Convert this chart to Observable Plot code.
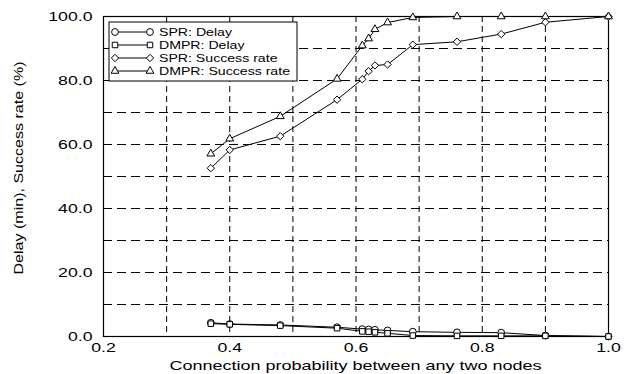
<!DOCTYPE html>
<html><head><meta charset="utf-8">
<script src="https://cdn.jsdelivr.net/npm/d3@7"></script>
<script src="https://cdn.jsdelivr.net/npm/@observablehq/plot@0.6"></script>
<style>body{margin:0;background:#fff;}svg{display:block;}</style>
</head><body><div id="chart"></div>
<script>
const xValues = [0.37, 0.40, 0.48, 0.57, 0.61, 0.62, 0.63, 0.65, 0.69, 0.76, 0.83, 0.90, 1.00];
const sprDelay = [4.3, 3.9, 3.6, 2.9, 2.3, 2.2, 2.1, 1.9, 1.5, 1.3, 1.2, 0.3, 0.0];
const dmprDelay = [4.0, 3.8, 3.4, 2.6, 1.6, 1.5, 1.3, 1.0, 0.3, 0.2, 0.2, 0.2, 0.0];
const sprSuccess = [52.6, 58.3, 62.6, 74.0, 80.4, 82.9, 84.7, 85.0, 91.2, 92.1, 94.5, 98.2, 100];
const dmprSuccess = [57.1, 61.8, 68.8, 80.5, 90.9, 93.1, 96.0, 98.1, 99.7, 100, 100, 100, 100];
const seriesNames = ["SPR: Delay", "DMPR: Delay", "SPR: Success rate", "DMPR: Success rate"];
const seriesSymbols = ["circle", "square", "diamond2", "triangle"];
const xTicks = [0.2, 0.4, 0.6, 0.8, 1.0];
const yTicks = [0, 20, 40, 60, 80, 100];
const xGrid = [0.3, 0.4, 0.5, 0.6, 0.7, 0.8, 0.9];
const yGrid = [10, 20, 30, 40, 50, 60, 70, 80, 90];
const xTitle = "Connection probability between any two nodes";
const yTitle = "Delay (min), Success rate (%)";

const seriesValues = [sprDelay, dmprDelay, sprSuccess, dmprSuccess];
const symbolSizes = [3.4, 3.1, 3.3, 2.9];
const data = [];
seriesValues.forEach((vals, i) => vals.forEach((v, j) => data.push({x: xValues[j], y: v, s: seriesNames[i]})));

const FONT = '"Liberation Sans", Arial, Helvetica, sans-serif';
const W = 626, H = 374;
const plot = Plot.plot({
  width: W, height: H,
  marginLeft: 103, marginRight: 18, marginTop: 16, marginBottom: 38,
  style: {fontFamily: FONT, fontSize: "13px", background: "#fff", color: "#000"},
  x: {domain: [0.2, 1.0]},
  y: {domain: [0, 100]},
  symbol: {domain: seriesNames, range: seriesSymbols},
  marks: [
    Plot.gridX(xGrid, {stroke: "#000", strokeOpacity: 1, strokeDasharray: "6,4", strokeWidth: 1}),
    Plot.gridY(yGrid, {stroke: "#000", strokeOpacity: 1, strokeDasharray: "9,5", strokeWidth: 1}),
    Plot.frame({stroke: "#000", strokeWidth: 1.2}),
    Plot.axisX(xTicks, {tickSize: 0, tickPadding: 6, tickFormat: d3.format(".1f"), fontSize: 13, label: null}),
    Plot.axisY(yTicks, {tickSize: 0, tickPadding: 11, tickFormat: d3.format(".1f"), fontSize: 13, label: null}),
    Plot.line(data, {x: "x", y: "y", z: "s", stroke: "#000", strokeWidth: 1}),
    ...seriesNames.map((name, i) =>
      Plot.dot(data.filter(d => d.s === name), {x: "x", y: "y", symbol: "s", r: symbolSizes[i], stroke: "#000", fill: "#fff", strokeWidth: 1}))
  ]
});
document.getElementById("chart").appendChild(plot);

const svg = d3.select(plot);
const stretch = (sel, factor) => sel.each(function() {
  const len = this.getComputedTextLength();
  this.setAttribute("textLength", (len * factor).toFixed(1));
  this.setAttribute("lengthAdjust", "spacingAndGlyphs");
});
// horizontally stretched tick labels, as in the reference
stretch(svg.selectAll("g[aria-label='x-axis tick label'] text, g[aria-label='y-axis tick label'] text"), 1.36);

const xs = plot.scale("x");
const xMid = (xs.range[0] + xs.range[1]) / 2;
svg.append("text").attr("x", xMid).attr("y", 370).attr("text-anchor", "middle")
  .attr("font-family", FONT).attr("font-size", 13).attr("fill", "#000").text(xTitle)
  .attr("textLength", 372).attr("lengthAdjust", "spacingAndGlyphs");
svg.append("text").attr("transform", "translate(23,168) rotate(-90)").attr("text-anchor", "middle")
  .attr("font-family", FONT).attr("font-size", 13).attr("fill", "#000").text(yTitle)
  .attr("textLength", 213).attr("lengthAdjust", "spacingAndGlyphs");

// legend inside plot (top-left)
const lg = svg.append("g").attr("transform", "translate(109,22)");
lg.append("rect").attr("width", 188).attr("height", 59).attr("fill", "#fff").attr("stroke", "#000").attr("stroke-width", 1);
const symTypes = {circle: d3.symbolCircle, square: d3.symbolSquare, diamond2: d3.symbolDiamond2, triangle: d3.symbolTriangle};
seriesNames.forEach((name, i) => {
  const yy = 10 + i * 13;
  const row = lg.append("g").attr("transform", `translate(0,${yy})`);
  row.append("line").attr("x1", 6).attr("x2", 41).attr("y1", 0).attr("y2", 0).attr("stroke", "#000");
  const sym = d3.symbol().type(symTypes[seriesSymbols[i]]).size(Math.PI * symbolSizes[i] * symbolSizes[i]);
  [6, 41].forEach(px => row.append("path").attr("d", sym()).attr("transform", `translate(${px},0)`).attr("fill", "#fff").attr("stroke", "#000"));
  row.append("text").attr("x", 50).attr("y", 0).attr("dy", "0.35em").attr("text-anchor", "start")
    .attr("font-family", FONT).attr("font-size", 11).attr("fill", "#000").text(name);
});
const lt = lg.selectAll("text");
const lastLen = lt.nodes()[3].getComputedTextLength();
stretch(lt, 131 / lastLen);
</script></body></html>
